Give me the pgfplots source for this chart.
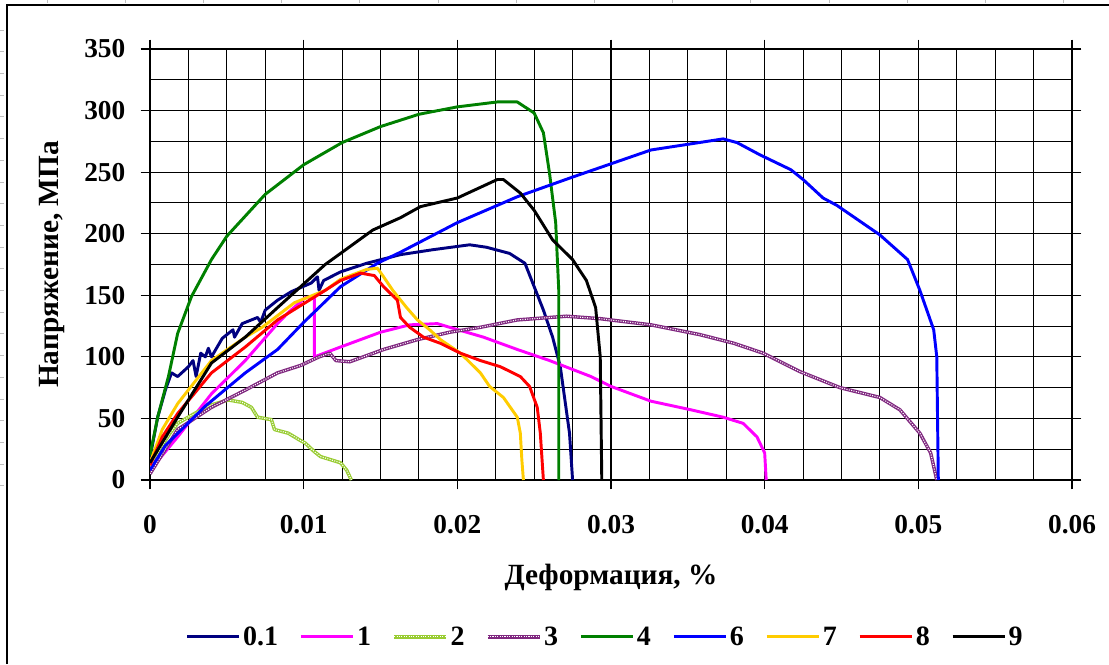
\documentclass[border=0pt]{standalone}
\usepackage{pgfplots}
\pgfplotsset{compat=1.18}
\usepackage{fontspec}
\setmainfont{Liberation Serif}

\definecolor{cNavy}{RGB}{0,0,128}
\definecolor{cMag}{RGB}{255,0,255}
\definecolor{cLime}{RGB}{153,204,51}
\definecolor{cPurp}{RGB}{128,40,128}
\definecolor{cGreen}{RGB}{0,128,0}
\definecolor{cBlue}{RGB}{0,0,255}
\definecolor{cGold}{RGB}{255,204,0}
\definecolor{cRed}{RGB}{255,0,0}

\begin{document}
\begin{tikzpicture}
% page frame (pixel units, 1px = 0.75pt)
\useasboundingbox (0,0) rectangle (831.75pt,498pt);
\draw[line width=2pt] (5.25pt,0pt) -- (5.25pt,494.25pt) -- (831.75pt,494.25pt);
\foreach \k in {0,...,21} \draw[gray!50,line width=0.5pt] (0pt,{(664-30-21.7*\k)*0.75pt}) -- (3pt,{(664-30-21.7*\k)*0.75pt});
\foreach \k in {0,...,13} \draw[gray!50,line width=0.5pt] ({(47+78.2*\k)*0.75pt},498pt) -- ({(47+78.2*\k)*0.75pt},495.5pt);

\begin{axis}[
  at={(112.5pt,138pt)}, anchor=south west,
  scale only axis, width=691.5pt, height=323.25pt,
  xmin=0, xmax=0.06, ymin=0, ymax=350,
  xtick={0,0.01,0.02,0.03,0.04,0.05,0.06},
  xticklabels={0,0.01,0.02,0.03,0.04,0.05,0.06},
  scaled x ticks=false,
  ytick={0,50,...,350},
  minor xtick={0.0025,0.005,0.0075,0.0125,0.015,0.0175,0.0225,0.025,0.0275,0.0325,0.035,0.0375,0.0425,0.045,0.0475,0.0525,0.055,0.0575},
  minor ytick={25,75,125,175,225,275,325},
  grid=both,
  major grid style={black,line width=0.8pt},
  minor grid style={black,line width=0.8pt},
  axis line style={line width=2.2pt},
  tick align=outside, major tick length=7pt, minor tick length=0pt,
  tick style={black,line width=0.8pt},
  xticklabel style={font=\fontsize{20.5}{22}\selectfont\bfseries, yshift=-16pt},
  yticklabel style={font=\fontsize{20.5}{22}\selectfont\bfseries, xshift=-8pt},
  /pgf/number format/.cd, assume math mode=true,
  /pgfplots/.cd,
  xlabel={Деформация, \%},
  ylabel={Напряжение, МПа},
  label style={font=\fontsize{22}{24}\selectfont\bfseries},
  xlabel style={at={(axis description cs:0.5,-0.227)}, anchor=center},
  ylabel style={at={(axis description cs:-0.106,0.5)}, anchor=center},
  legend columns=9,
  legend style={at={(axis description cs:0.494,-0.364)}, anchor=center,
    draw=none, font=\fontsize{21}{22}\selectfont\bfseries,
    /tikz/every even column/.append style={column sep=14pt}},
  legend image code/.code={\draw[#1] (0pt,0pt) -- (39pt,0pt);},
  every axis plot/.append style={line width=2.2pt, line join=round},
]
\addplot[cNavy] coordinates {
(0,18) (0.0005,51) (0.0010,73) (0.0014,87) (0.0018,84) (0.0025,92) (0.0028,97)
(0.0030,84) (0.0033,103) (0.0036,100) (0.0038,107) (0.0040,100) (0.0047,115)
(0.0054,122) (0.0055,116) (0.0060,127) (0.0070,132) (0.0072,128) (0.0075,138)
(0.0083,146) (0.0092,153) (0.0105,160) (0.0109,165) (0.0110,154) (0.0113,162)
(0.0124,169) (0.0141,176) (0.0163,183) (0.0184,187) (0.0208,191) (0.0219,189)
(0.0234,184) (0.0244,176) (0.0250,157) (0.0256,138) (0.0262,116) (0.0267,92)
(0.0270,65) (0.0273,38) (0.0275,0)
};
\addlegendentry{0.1}
\addplot[cMag] coordinates {
(0,8) (0.0018,35) (0.0040,70) (0.0062,97) (0.0083,127) (0.0090,136) (0.0101,148)
(0.0107,149) (0.0107,100) (0.0124,108) (0.0150,120) (0.0169,126) (0.0187,127)
(0.0195,124) (0.0217,116) (0.0239,106) (0.0260,97) (0.0287,84) (0.0300,76)
(0.0326,64) (0.0352,57) (0.0373,51) (0.0386,46) (0.0395,35) (0.0400,22) (0.0401,0)
};
\addlegendentry{1}
\addplot[cLime, line width=2.6pt,
  postaction={draw, white, line width=0.8pt, dash pattern=on 0.8pt off 1pt}] coordinates {
(0,10) (0.0005,22) (0.0013,38) (0.0018,46) (0.0029,54) (0.0040,61) (0.0051,65)
(0.0060,63) (0.0066,59) (0.0070,51) (0.0079,49) (0.0081,41) (0.0090,38)
(0.0098,32) (0.0101,30) (0.0107,23) (0.0111,19) (0.0124,14) (0.0128,8) (0.0131,0)
};
\addlegendentry{2}
\addplot[cPurp, line width=2.6pt,
  postaction={draw, white, line width=0.8pt, dash pattern=on 0.8pt off 1pt}] coordinates {
(0,5) (0.0018,41) (0.0040,59) (0.0062,73) (0.0083,87) (0.0098,93) (0.0110,100)
(0.0117,103) (0.0121,97) (0.0130,96) (0.0152,106) (0.0174,114) (0.0195,120)
(0.0215,124) (0.0239,130) (0.0271,133) (0.0293,131) (0.0326,126) (0.0358,118)
(0.0380,111) (0.0399,103) (0.0423,88) (0.0449,75) (0.0475,67) (0.0488,57)
(0.0501,38) (0.0508,22) (0.0512,0)
};
\addlegendentry{3}
\addplot[cGreen] coordinates {
(0,20) (0.0005,51) (0.0012,84) (0.0018,119) (0.0027,149) (0.0040,179) (0.0050,198)
(0.0075,232) (0.0100,256) (0.0125,274) (0.0150,287) (0.0175,297) (0.0200,303)
(0.0226,307) (0.0239,307) (0.0250,298) (0.0256,282) (0.0260,249) (0.0264,209)
(0.0266,154) (0.0266,0)
};
\addlegendentry{4}
\addplot[cBlue] coordinates {
(0,8) (0.0010,28) (0.0036,60) (0.0062,87) (0.0083,106) (0.0100,128) (0.0124,157)
(0.0148,176) (0.0163,185) (0.0200,209) (0.0239,230) (0.0275,246) (0.0326,268)
(0.0373,277) (0.0382,274) (0.0397,264) (0.0417,252) (0.0425,244) (0.0438,229)
(0.0447,223) (0.0475,199) (0.0493,179) (0.0501,154) (0.0510,122) (0.0512,100)
(0.0513,0)
};
\addlegendentry{6}
\addplot[cGold] coordinates {
(0,14) (0.0008,41) (0.0018,62) (0.0040,97) (0.0062,116) (0.0073,124) (0.0094,144)
(0.0114,154) (0.0124,163) (0.0141,171) (0.0148,172) (0.0152,165) (0.0158,154)
(0.0167,140) (0.0174,130) (0.0182,122) (0.0189,114) (0.0202,103) (0.0215,87)
(0.0221,76) (0.0230,67) (0.0239,51) (0.0241,38) (0.0242,16) (0.0243,0)
};
\addlegendentry{7}
\addplot[cRed] coordinates {
(0,12) (0.0008,35) (0.0018,54) (0.0040,87) (0.0062,108) (0.0083,130) (0.0114,154)
(0.0124,162) (0.0137,168) (0.0146,166) (0.0152,157) (0.0161,146) (0.0163,132)
(0.0169,124) (0.0178,116) (0.0189,111) (0.0202,103) (0.0215,97) (0.0228,92)
(0.0241,84) (0.0247,76) (0.0252,59) (0.0254,38) (0.0256,0)
};
\addlegendentry{8}
\addplot[black] coordinates {
(0,14) (0.0018,51) (0.0040,95) (0.0062,116) (0.0083,140) (0.0114,175) (0.0124,184)
(0.0145,203) (0.0163,213) (0.0176,222) (0.0200,229) (0.0226,244) (0.0230,244)
(0.0241,233) (0.0250,219) (0.0262,195) (0.0275,179) (0.0284,162) (0.0290,140)
(0.0293,100) (0.0294,0)
};
\addlegendentry{9}
\end{axis}
\end{tikzpicture}
\end{document}
